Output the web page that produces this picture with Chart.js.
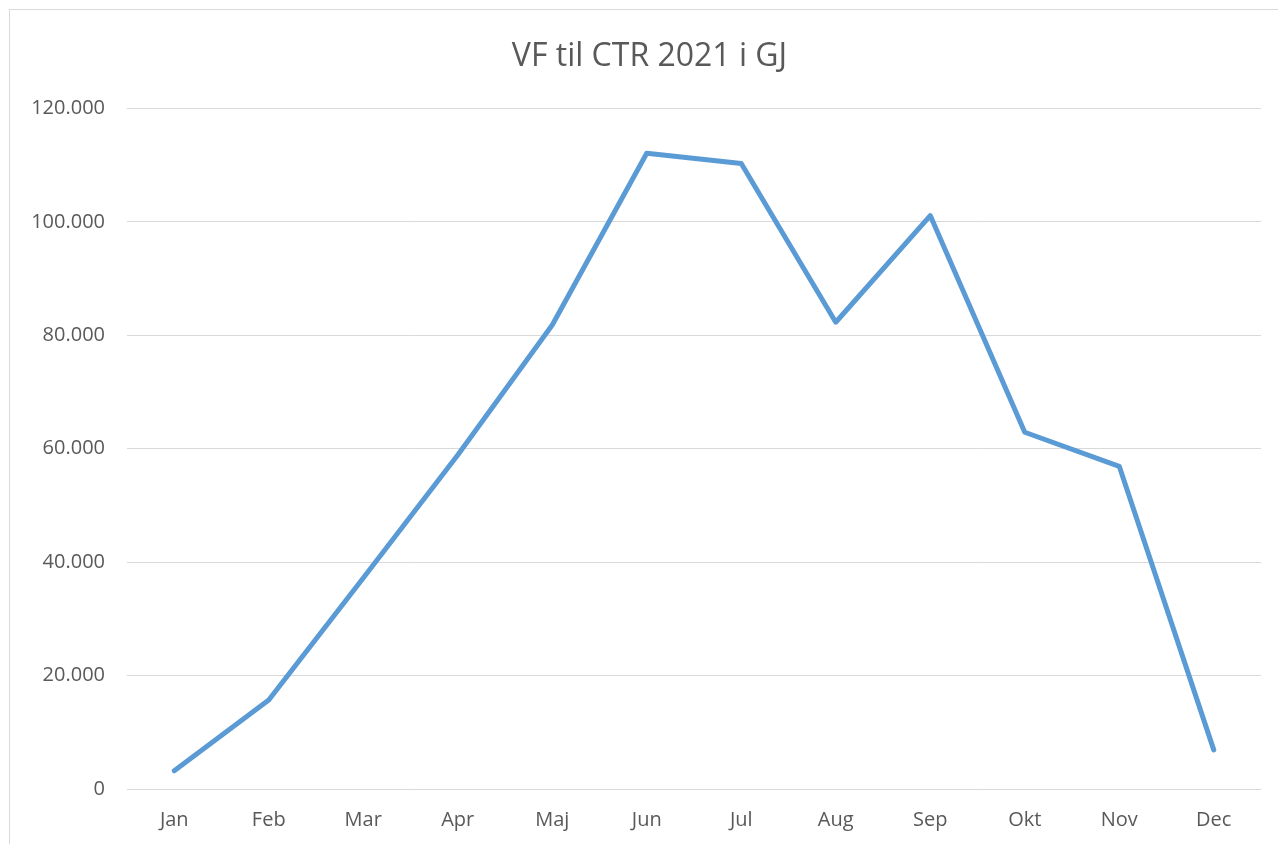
<!DOCTYPE html>
<html>
<head>
<meta charset="utf-8">
<script src="https://cdn.jsdelivr.net/npm/chart.js@4/dist/chart.umd.min.js"></script>
<style>
  html, body { margin: 0; padding: 0; background: #fff; overflow: hidden; }
  #frame {
    position: absolute; left: 9px; top: 9px; width: 1281px; height: 850px;
    border: 1px solid #d9d9d9; box-sizing: border-box;
  }
  #chartWrap { position: absolute; left: 9px; top: 9px; width: 1281px; height: 850px; }
</style>
</head>
<body>
<div id="frame"></div>
<div id="chartWrap"><canvas id="vfChart"></canvas></div>
<script>
// Monthly delivery VF -> CTR in 2021, GJ
const months = ['Jan', 'Feb', 'Mar', 'Apr', 'Maj', 'Jun', 'Jul', 'Aug', 'Sep', 'Okt', 'Nov', 'Dec'];
const vfValues = [3200, 15700, 37200, 58900, 81800, 112100, 110300, 82300, 101100, 62900, 56900, 6900];
const yTicks = [0, 20000, 40000, 60000, 80000, 100000, 120000];

const fontFamily = '"Open Sans", Calibri, sans-serif';
const textColor = '#595959';

// Danish style thousands separator
function fmt(v) {
  return String(Math.round(v)).replace(/\B(?=(\d{3})+(?!\d))/g, '.');
}

const ctx = document.getElementById('vfChart').getContext('2d');
const vfChart = new Chart(ctx, {
  type: 'line',
  data: {
    labels: months,
    datasets: [
      {
        label: 'VF til CTR',
        data: vfValues,
        borderColor: '#5b9bd5',
        borderWidth: 5,
        pointRadius: 0,
        tension: 0,
        fill: false,
        borderCapStyle: 'round',
        borderJoinStyle: 'round',
      },
    ],
  },
  options: {
    responsive: true,
    maintainAspectRatio: false,
    animation: false,
    layout: { padding: 0 },
    plugins: {
      legend: { display: false },
      tooltip: { enabled: false },
      title: {
        display: true,
        text: 'VF til CTR 2021 i GJ',
        color: textColor,
        font: { family: fontFamily, size: 32, weight: 'normal' },
        padding: { top: 29, bottom: 32 },
      },
    },
    scales: {
      x: {
        offset: true,
        grid: { display: false, drawTicks: false },
        border: { display: false },
        ticks: {
          color: textColor,
          font: { family: fontFamily, size: 20 },
          padding: 19,
          maxRotation: 0,
        },
        afterFit: (scale) => { scale.height = 70; },
      },
      y: {
        min: 0,
        max: 120000,
        afterBuildTicks: (scale) => { scale.ticks = yTicks.map((v) => ({ value: v })); },
        grid: { color: '#d9d9d9', lineWidth: 1, drawTicks: false },
        border: { display: false },
        ticks: {
          color: textColor,
          font: { family: fontFamily, size: 20 },
          padding: 22,
          callback: (v) => fmt(v),
        },
        afterFit: (scale) => { scale.width = 118; },
      },
      // empty right-hand spacer so the title stays centred on the whole frame
      yRight: {
        position: 'right',
        min: 0,
        max: 1,
        grid: { display: false, drawTicks: false },
        border: { display: false },
        ticks: { display: false },
        afterFit: (scale) => { scale.width = 29; },
      },
    },
  },
});
</script>
</body>
</html>
